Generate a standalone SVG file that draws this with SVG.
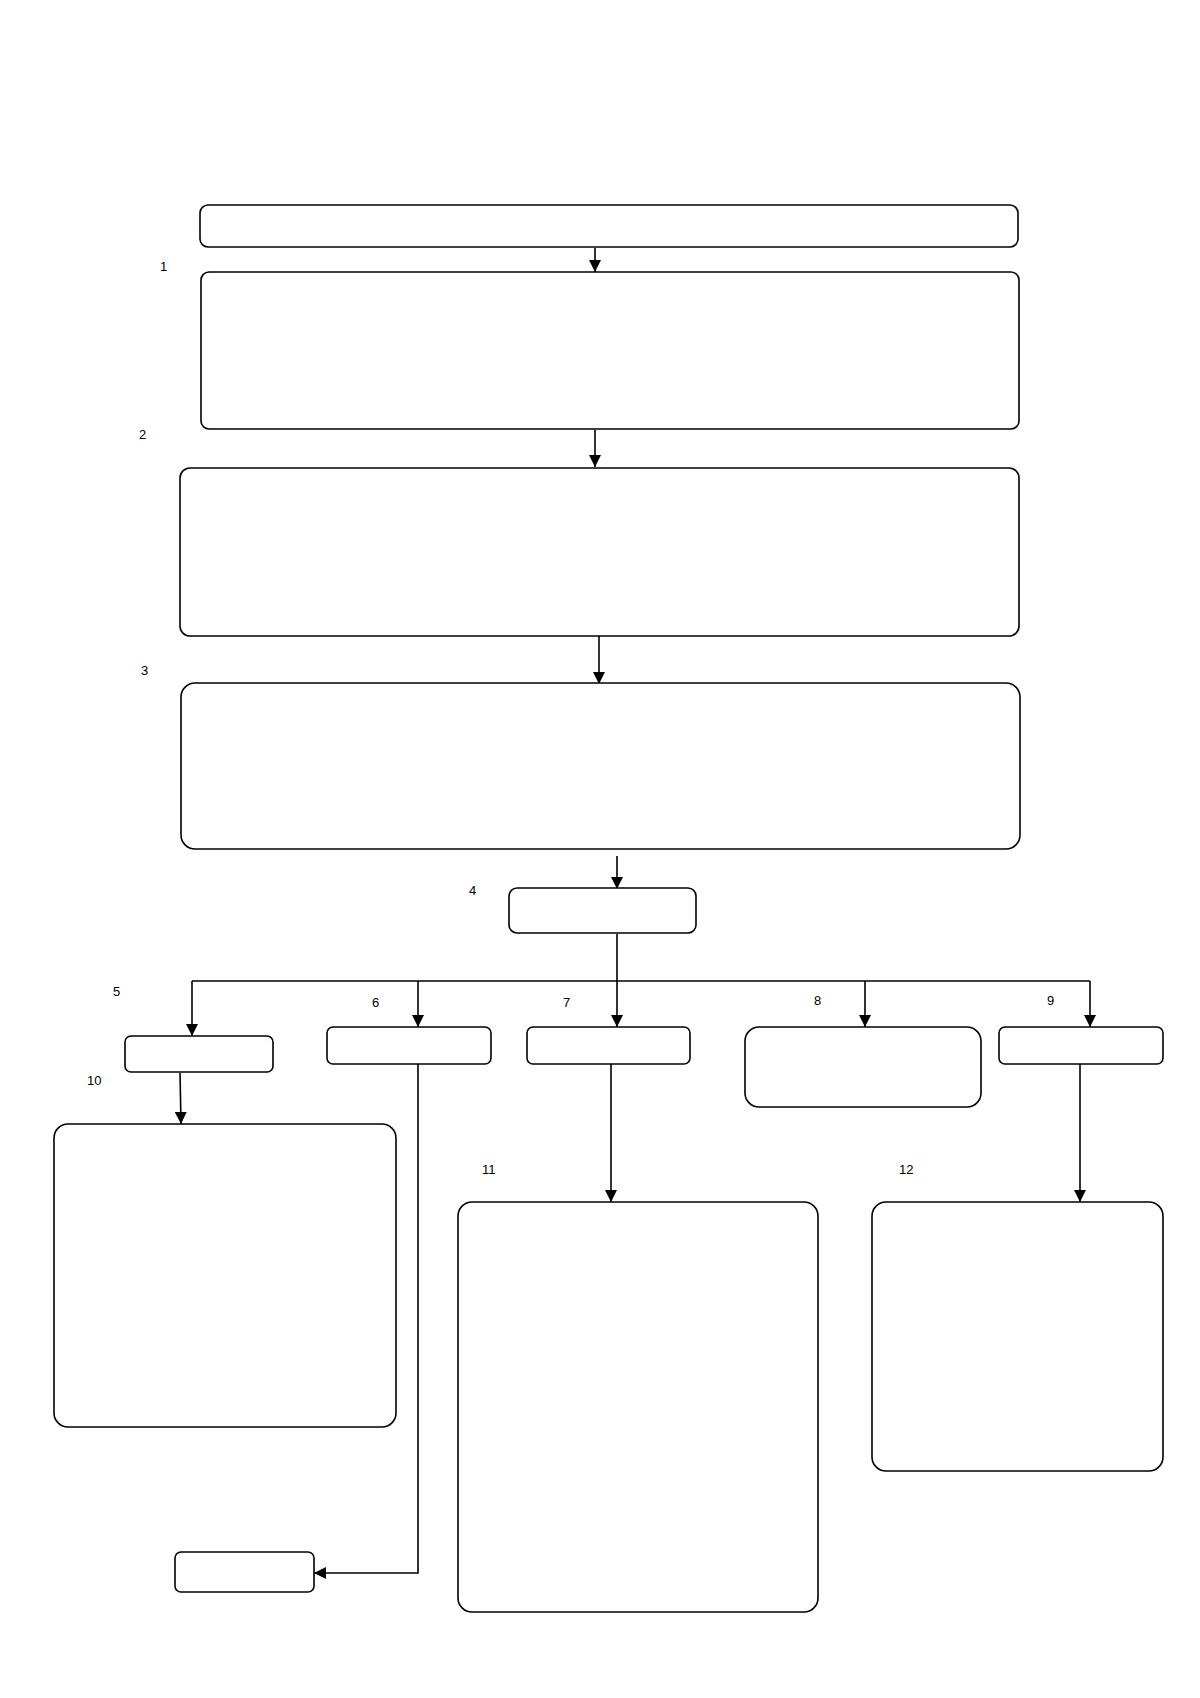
<svg xmlns="http://www.w3.org/2000/svg" width="1200" height="1698" viewBox="0 0 1200 1698">
<style>
.n{fill:#fff;stroke:#000;stroke-width:1.6}
.c{fill:none;stroke:#000;stroke-width:1.6}
.t{font-family:"Liberation Sans",sans-serif;font-size:13px;fill:#000}
</style>
<defs><marker id="a" viewBox="0 0 10 10" refX="10" refY="5" markerWidth="8" markerHeight="8" markerUnits="userSpaceOnUse" orient="auto"><path d="M0,0L10,5L0,10z" fill="#000"/></marker>
<marker id="b" viewBox="0 0 10 10" refX="10" refY="5" markerWidth="12" markerHeight="12" markerUnits="userSpaceOnUse" orient="auto"><path d="M0,0L10,5L0,10z" fill="#000"/></marker></defs>
<rect width="1200" height="1698" fill="#fff"/>
<g id="connectors">
<path class="c" d="M595,248V272" marker-end="url(#b)"/>
<path class="c" d="M595,430V467" marker-end="url(#b)"/>
<path class="c" d="M599,636V684" marker-end="url(#b)"/>
<path class="c" d="M617,856V889" marker-end="url(#b)"/>
<path class="c" d="M617,934V981M192,981H1090"/>
<path class="c" d="M192,981V1036" marker-end="url(#b)"/>
<path class="c" d="M418,981V1027" marker-end="url(#b)"/>
<path class="c" d="M617,981V1027" marker-end="url(#b)"/>
<path class="c" d="M865,981V1027" marker-end="url(#b)"/>
<path class="c" d="M1090,981V1027" marker-end="url(#b)"/>
<path class="c" d="M180,1073L181,1124" marker-end="url(#b)"/>
<path class="c" d="M418,1064V1573H314" marker-end="url(#b)"/>
<path class="c" d="M611,1064V1202" marker-end="url(#b)"/>
<path class="c" d="M1080,1064V1202" marker-end="url(#b)"/>
</g>
<g id="n0"><rect class="n" x="200" y="205" width="818" height="42" rx="8"/></g>
<g id="n1"><rect class="n" x="201" y="272" width="818" height="157" rx="8"/><text class="t" x="160" y="271">1</text></g>
<g id="n2"><rect class="n" x="180" y="468" width="839" height="168" rx="10"/><text class="t" x="139" y="439">2</text></g>
<g id="n3"><rect class="n" x="181" y="683" width="839" height="166" rx="14"/><text class="t" x="141" y="675">3</text></g>
<g id="n4"><rect class="n" x="509" y="888" width="187" height="45" rx="8"/><text class="t" x="469" y="895">4</text></g>
<g id="n5"><rect class="n" x="125" y="1036" width="148" height="36" rx="6"/><text class="t" x="113" y="996">5</text></g>
<g id="n6"><rect class="n" x="327" y="1027" width="164" height="37" rx="6"/><text class="t" x="372" y="1007">6</text></g>
<g id="n7"><rect class="n" x="527" y="1027" width="163" height="37" rx="6"/><text class="t" x="563" y="1007">7</text></g>
<g id="n8"><rect class="n" x="745" y="1027" width="236" height="80" rx="14"/><text class="t" x="814" y="1005">8</text></g>
<g id="n9"><rect class="n" x="999" y="1027" width="164" height="37" rx="6"/><text class="t" x="1047" y="1005">9</text></g>
<g id="n10"><rect class="n" x="54" y="1124" width="342" height="303" rx="14"/><text class="t" x="87" y="1085">10</text></g>
<g id="n11"><rect class="n" x="458" y="1202" width="360" height="410" rx="14"/><text class="t" x="482" y="1174">11</text></g>
<g id="n12"><rect class="n" x="872" y="1202" width="291" height="269" rx="14"/><text class="t" x="899" y="1174">12</text></g>
<g id="n13"><rect class="n" x="175" y="1552" width="139" height="40" rx="6"/></g>
</svg>
